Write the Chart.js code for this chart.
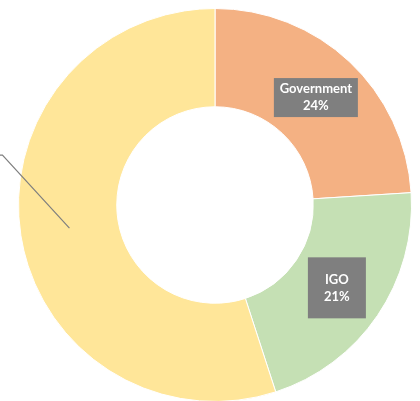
<!DOCTYPE html>
<html>
<head>
<meta charset="utf-8">
<script src="https://cdn.jsdelivr.net/npm/chart.js@4"></script>
<style>
    html, body { margin: 0; padding: 0; overflow: hidden; background: #fff; }
    #wrap { width: 420px; height: 403px; position: relative; }
</style>
</head>
<body>
<div id="wrap"><canvas id="fundingChart"></canvas></div>
<script>
const categories = ['Government', 'IGO', 'Other'];
const shares = [24, 21, 55];
const sliceColors = ['#F4B183', '#C5E0B4', '#FFE699'];

// draws the grey label boxes, and a leader line for the slice whose label sits off to the left
const sliceLabels = {
    id: 'sliceLabels',
    afterDatasetsDraw(chart) {
        const ctx = chart.ctx;
        const arcs = chart.getDatasetMeta(0).data;
        ctx.save();
        ctx.font = 'bold 13px Lato, "Open Sans", sans-serif';
        ctx.textAlign = 'center';
        ctx.textBaseline = 'middle';
        arcs.forEach((arc, i) => {
            const p = arc.tooltipPosition();
            const lines = [categories[i], shares[i] + '%'];
            if (i === 2) {
                // leader line out to the label outside the canvas
                const bend = { x: p.x - 67, y: p.y - 73 };
                ctx.strokeStyle = '#7F7F7F';
                ctx.lineWidth = 1.2;
                ctx.beginPath();
                ctx.moveTo(p.x, p.y);
                ctx.lineTo(bend.x, bend.y);
                ctx.lineTo(bend.x - 12, bend.y);
                ctx.stroke();
                return;
            }
            const w = i === 0 ? 84 : 58;
            const h = i === 0 ? 39 : 61;
            ctx.fillStyle = '#7F7F7F';
            ctx.fillRect(p.x - w / 2, p.y - h / 2, w, h);
            ctx.fillStyle = '#FFFFFF';
            ctx.fillText(lines[0], p.x, p.y - 8.5);
            ctx.fillText(lines[1], p.x, p.y + 8.5);
        });
        ctx.restore();
    }
};

new Chart(document.getElementById('fundingChart'), {
    type: 'doughnut',
    data: {
        labels: categories,
        datasets: [{
            data: shares,
            backgroundColor: sliceColors,
            borderColor: '#FFFFFF',
            borderWidth: 1
        }]
    },
    options: {
        responsive: true,
        maintainAspectRatio: false,
        animation: false,
        cutout: '50%',
        layout: { padding: { top: 8, bottom: 1, left: 18, right: 8 } },
        plugins: {
            legend: { display: false },
            tooltip: { enabled: false }
        }
    },
    plugins: [sliceLabels]
});
</script>
</body>
</html>
